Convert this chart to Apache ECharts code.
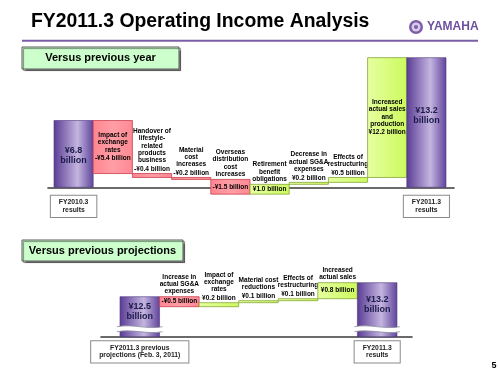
<!DOCTYPE html>
<html>
<head>
<meta charset="utf-8">
<script src="https://cdn.jsdelivr.net/npm/echarts@6/dist/echarts.min.js"></script>
<style>html,body{margin:0;padding:0;background:#fff}#c{width:500px;height:375px}</style>
</head>
<body>
<div id="c"></div>
<script>
// ---------- data ----------
const topCategories = ['FY2010.3\nresults', 'Impact of\nexchange\nrates', 'Handover of\nlifestyle-\nrelated\nproducts\nbusiness', 'Material\ncost\nincreases', 'Overseas\ndistribution\ncost\nincreases', 'Retirement\nbenefit\nobligations', 'Decrease in\nactual SG&A\nexpenses', 'Effects of\nrestructuring', 'Increased\nactual sales\nand\nproduction', 'FY2011.3\nresults'];
const topKinds = ['total', 'delta', 'delta', 'delta', 'delta', 'delta', 'delta', 'delta', 'delta', 'total'];
const topValues = [6.8, -5.4, -0.4, -0.2, -1.5, 1.0, 0.2, 0.5, 12.2, 13.2];
const topValueLabels = ['¥6.8\nbillion', '-¥5.4 billion', '-¥0.4 billion', '-¥0.2 billion', '-¥1.5 billion', '¥1.0 billion', '¥0.2 billion', '¥0.5 billion', '¥12.2 billion', '¥13.2\nbillion'];

const bottomCategories = ['FY2011.3 previous\nprojections (Feb. 3, 2011)', 'Increase in\nactual SG&A\nexpenses', 'Impact of\nexchange\nrates', 'Material cost\nreductions', 'Effects of\nrestructuring', 'Increased\nactual sales', 'FY2011.3\nresults'];
const bottomKinds = ['total', 'delta', 'delta', 'delta', 'delta', 'delta', 'total'];
const bottomValues = [12.5, -0.5, 0.2, 0.1, 0.1, 0.8, 13.2];
const bottomValueLabels = ['¥12.5\nbillion', '-¥0.5 billion', '¥0.2 billion', '¥0.1 billion', '¥0.1 billion', '¥0.8 billion', '¥13.2\nbillion'];

const topAxisMin = -1, topAxisMax = 14;
const bottomAxisMin = 10.5, bottomAxisMax = 13.5;

// ---------- helpers ----------
const FONT = '"Liberation Sans", Arial, sans-serif';
const SMALL = 6.5, LH = 7.3;

function buildRows(kinds, values, base) {
  let run = 0;
  return values.map((v, i) => {
    let s, e;
    if (kinds[i] === 'total') { s = base; e = v; run = v; }
    else { s = run; e = run + v; run = e; }
    return [i, s, e];
  });
}

const purpleGrad = () => new echarts.graphic.LinearGradient(0, 0, 1, 0, [
  { offset: 0, color: '#5a3c94' }, { offset: 0.6, color: '#c4b5e0' }, { offset: 1, color: '#5f439b' }]);
const greenGrad = () => new echarts.graphic.LinearGradient(0, 0, 1, 0, [
  { offset: 0, color: '#e6ffa0' }, { offset: 1, color: '#ccfa5c' }]);
const redGrad = () => new echarts.graphic.LinearGradient(0, 0, 1, 0, [
  { offset: 0, color: '#ff8590' }, { offset: 0.5, color: '#ff9ea6' }, { offset: 1, color: '#ff8893' }]);

function txt(x, y, text, opts) {
  return {
    type: 'text', x: x, y: y, silent: true,
    style: Object.assign({
      text: text, fill: '#000', fontSize: SMALL, fontWeight: 'bold', fontFamily: FONT,
      align: 'center', verticalAlign: 'middle', lineHeight: LH
    }, opts || {})
  };
}

function makeRender(cats, kinds, labels, withBreak, boxGap) {
  return function (params, api) {
    const k = params.dataIndex;
    const i = api.value(0), s = api.value(1), e = api.value(2);
    const p0 = api.coord([i, s]);
    const p1 = api.coord([i + 1, e]);
    const x = p0[0], w = p1[0] - p0[0];
    const yTop = Math.min(p0[1], p1[1]), yBot = Math.max(p0[1], p1[1]);
    const h = yBot - yTop;
    const cx = x + w / 2;
    const kids = [];
    const cat = cats[k], val = labels[k];
    if (kinds[k] === 'total') {
      kids.push({ type: 'rect', shape: { x: x, y: yTop, width: w, height: h },
        style: { fill: purpleGrad(), stroke: '#4b3580', lineWidth: 0.6 } });
      let visBot = yBot;
      if (withBreak) {
        const a = yBot - 10, b = yBot - 5, x0 = x - 3, x1 = x + w + 3, ww = x1 - x0;
        const top = `M${x0} ${a} C${x0 + ww / 3} ${a - 3} ${x0 + 2 * ww / 3} ${a + 3} ${x1} ${a}`;
        const bot = `M${x1} ${b} C${x0 + 2 * ww / 3} ${b + 3} ${x0 + ww / 3} ${b - 3} ${x0} ${b}`;
        kids.push({ type: 'path', shape: { pathData: top + ` L${x1} ${b} C${x0 + 2 * ww / 3} ${b + 3} ${x0 + ww / 3} ${b - 3} ${x0} ${b} Z` },
          style: { fill: '#fff', stroke: null } });
        kids.push({ type: 'path', shape: { pathData: top }, style: { fill: null, stroke: '#8a8a9a', lineWidth: 0.8 } });
        kids.push({ type: 'path', shape: { pathData: bot }, style: { fill: null, stroke: '#8a8a9a', lineWidth: 0.8 } });
        visBot = a;
      }
      const midY = Math.min((yTop + visBot) / 2 + 2, yTop + 58);
      kids.push(txt(cx, withBreak ? (yTop + visBot) / 2 : midY, val, { fill: '#1c1a48', fontSize: 9, lineHeight: 10 }));
      kids.push(txt(cx, yBot + boxGap, cat, {
        verticalAlign: 'top', fontSize: 6.8, lineHeight: 7.6, fill: '#222',
        backgroundColor: '#fff', borderColor: '#8a8a8a', borderWidth: 1, padding: [3, 8, 3, 8]
      }));
    } else {
      const up = e >= s;
      kids.push({ type: 'rect', shape: { x: x, y: yTop, width: w, height: Math.max(h, 1) },
        style: up ? { fill: greenGrad(), stroke: '#86a63a', lineWidth: 0.8 }
                  : { fill: redGrad(), stroke: '#c9404e', lineWidth: 0.8 } });
      const nCat = cat.split('\n').length;
      const blockH = nCat * LH + 9;
      if (h >= blockH + 10) {
        const t0 = (yTop + yBot) / 2 - blockH / 2;
        kids.push(txt(cx, t0, cat, { verticalAlign: 'top' }));
        kids.push(txt(cx, t0 + nCat * LH + 5, val));
      } else if (h >= 8) {
        kids.push(txt(cx, (yTop + yBot) / 2, val));
        kids.push(txt(cx, yTop - 1.5, cat, { verticalAlign: 'bottom' }));
      } else {
        kids.push(txt(cx, yTop - 4, val));
        kids.push(txt(cx, yTop - 9.5, cat, { verticalAlign: 'bottom' }));
      }
    }
    return { type: 'group', children: kids };
  };
}

const topRows = buildRows(topKinds, topValues, 0);
const bottomRows = buildRows(bottomKinds, bottomValues, bottomAxisMin);

const axisLineStyle = { show: true, onZero: true, lineStyle: { color: '#3a3a3a', width: 1.6 } };

const option = {
  animation: false,
  grid: [
    { left: 48, right: 46, top: 49.8, bottom: 177.9 },
    { left: 101, right: 88, top: 276.7, bottom: 38.3 }
  ],
  xAxis: [
    { gridIndex: 0, type: 'value', min: -0.153, max: 10.204, axisLine: axisLineStyle,
      axisTick: { show: false }, axisLabel: { show: false }, splitLine: { show: false } },
    { gridIndex: 1, type: 'value', min: -0.48, max: 7.38, axisLine: axisLineStyle,
      axisTick: { show: false }, axisLabel: { show: false }, splitLine: { show: false } }
  ],
  yAxis: [
    { gridIndex: 0, type: 'value', min: topAxisMin, max: topAxisMax, show: false, splitLine: { show: false } },
    { gridIndex: 1, type: 'value', min: bottomAxisMin, max: bottomAxisMax, show: false, splitLine: { show: false } }
  ],
  series: [
    { type: 'custom', xAxisIndex: 0, yAxisIndex: 0, clip: false, z: 3,
      renderItem: makeRender(topCategories, topKinds, topValueLabels, false, 8.5),
      encode: { x: [0], y: [1, 2] }, data: topRows },
    { type: 'custom', xAxisIndex: 1, yAxisIndex: 1, clip: false, z: 3,
      renderItem: makeRender(bottomCategories, bottomKinds, bottomValueLabels, true, 4.5),
      encode: { x: [0], y: [1, 2] }, data: bottomRows }
  ],
  graphic: [
    { type: 'text', left: 31, top: 12, style: { text: 'FY2011.3 Operating Income Analysis', fill: '#000',
      font: 'bold 19.4px ' + FONT } },
    { type: 'line', shape: { x1: 22, y1: 40.7, x2: 478, y2: 40.7 }, style: { stroke: '#7b5ea7', lineWidth: 2 } },
    { type: 'circle', shape: { cx: 416, cy: 27, r: 7 }, style: { fill: '#7b5ea7' } },
    { type: 'circle', shape: { cx: 416, cy: 27, r: 4.5 }, style: { fill: '#d8ccea' } },
    { type: 'circle', shape: { cx: 416, cy: 27, r: 2 }, style: { fill: '#7b5ea7' } },
    { type: 'text', left: 427, top: 20.5, style: { text: 'YAMAHA', fill: '#6e4f9e', font: 'bold 12px ' + FONT } },
    { type: 'rect', shape: { x: 22, y: 47, width: 157, height: 22 },
      style: { fill: '#ccffcc', stroke: '#5a5a5a', lineWidth: 1, shadowColor: 'rgba(0,0,0,0.45)', shadowOffsetX: 1.5, shadowOffsetY: 1.5, shadowBlur: 1 } },
    { type: 'text', x: 100.5, y: 58, style: { text: 'Versus previous year', fill: '#000', font: 'bold 11px ' + FONT, align: 'center', verticalAlign: 'middle' } },
    { type: 'rect', shape: { x: 22, y: 240, width: 161, height: 21 },
      style: { fill: '#ccffcc', stroke: '#5a5a5a', lineWidth: 1, shadowColor: 'rgba(0,0,0,0.45)', shadowOffsetX: 1.5, shadowOffsetY: 1.5, shadowBlur: 1 } },
    { type: 'text', x: 102.5, y: 250.5, style: { text: 'Versus previous projections', fill: '#000', font: 'bold 11px ' + FONT, align: 'center', verticalAlign: 'middle' } },
    { type: 'text', x: 494, y: 366, style: { text: '5', fill: '#000', font: 'bold 9px ' + FONT, align: 'center', verticalAlign: 'middle' } }
  ]
};

const chart = echarts.init(document.getElementById('c'), null, { renderer: 'canvas' });
chart.setOption(option);
</script>
</body>
</html>
